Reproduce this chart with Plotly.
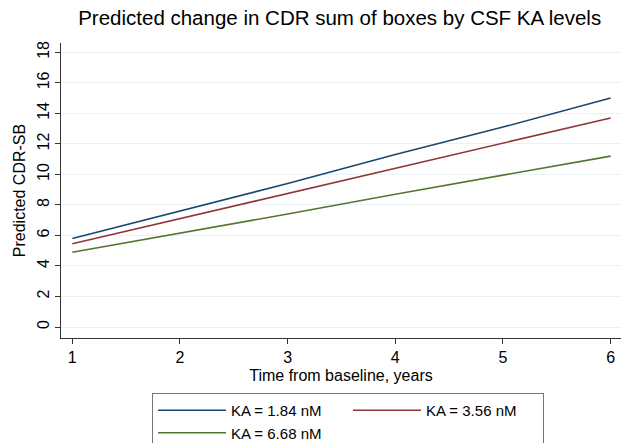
import plotly.graph_objects as go

years = [1, 2, 3, 4, 5, 6]
ka_184 = [5.8, 7.6, 9.4, 11.3, 13.1, 15.0]
ka_356 = [5.45, 7.1, 8.75, 10.4, 12.05, 13.7]
ka_668 = [4.9, 6.15, 7.4, 8.7, 9.95, 11.2]
names = ["KA = 1.84 nM", "KA = 3.56 nM", "KA = 6.68 nM"]
colors = ["#1a476f", "#90353b", "#55752f"]
x_ticks = [1, 2, 3, 4, 5, 6]
y_ticks = [0, 2, 4, 6, 8, 10, 12, 14, 16, 18]

fig = go.Figure()
for name, vals, col in zip(names, [ka_184, ka_356, ka_668], colors):
    fig.add_trace(go.Scatter(x=years, y=vals, mode="lines", name=name,
                             line=dict(color=col, width=1.6)))

font = "Liberation Sans, Arial, sans-serif"
fig.update_layout(
    width=621, height=443,
    paper_bgcolor="white", plot_bgcolor="white",
    font=dict(family=font, size=16, color="black"),
    margin=dict(l=61, r=0, t=43, b=105),
    title=dict(text="Predicted change in CDR sum of boxes by CSF KA levels",
               x=0.547, xanchor="center", y=1 - 18/443, yanchor="middle",
               font=dict(size=20.5, color="black")),
    xaxis=dict(range=[0.895, 6.096], tickvals=x_ticks, ticks="outside", ticklen=5,
               tickcolor="#333333", showline=True, linecolor="#333333", linewidth=1,
               showgrid=False, zeroline=False, automargin=False,
               title=dict(text="Time from baseline, years", font=dict(size=16), standoff=4)),
    yaxis=dict(range=[-0.72, 18.61], tickvals=y_ticks, ticks="outside", ticklen=5,
               tickcolor="#333333", showline=True, linecolor="#333333", linewidth=1,
               showgrid=True, gridcolor="#eaf2f3", gridwidth=1, zeroline=False,
               tickangle=-90, automargin=False,
               title=dict(text="Predicted CDR-SB", font=dict(size=16), standoff=4)),
    legend=dict(orientation="h", xref="container", yref="container",
                x=152/621, y=1-393/443, xanchor="left", yanchor="top",
                entrywidth=112, bordercolor="#777777", borderwidth=1,
                font=dict(size=15), tracegroupgap=0, itemwidth=68),
)
fig.write_html("out.html", config={"displayModeBar": False},
               post_script="document.body.style.margin='0px';")
